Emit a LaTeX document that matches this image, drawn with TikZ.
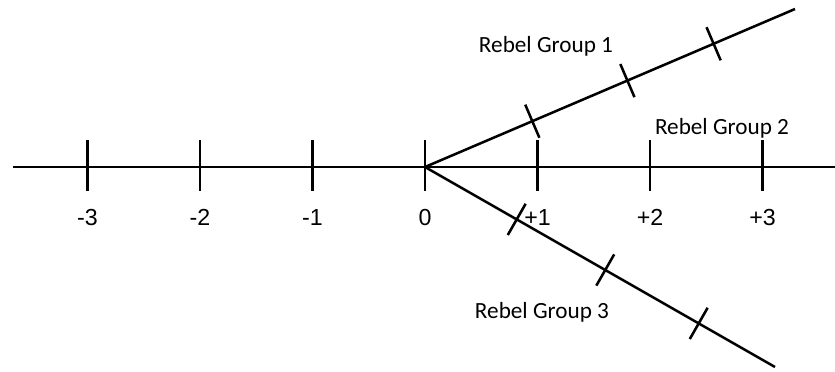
\documentclass[tikz,border=0pt]{standalone}
\usepackage{fontspec}
\setmainfont{Liberation Sans}
\newfontfamily\groupfont{Carlito}
\usetikzlibrary{calc}

\begin{document}
\begin{tikzpicture}[x=0.025cm, y=-0.025cm, line width=1.8pt,
    num/.style={font=\fontsize{16.5}{19}\selectfont, anchor=base},
    group/.style={font=\groupfont\fontsize{16.5}{20}\selectfont}]
    \useasboundingbox (0,0) rectangle (835,371);
    % axis and the two branches
    \coordinate (o) at (425,167);
    \coordinate (left) at (13,167);
    \coordinate (right) at (835,167);
    \coordinate (g1) at (795,9);
    \coordinate (g3) at (775,367);
    \draw (left) -- (right);
    \draw (o) -- (g1);
    \draw (o) -- (g3);
    % ticks and numbers on the axis
    \foreach \i/\lab in {-3/-3,-2/-2,-1/-1,0/0,1/+1,2/+2,3/+3} {
        \draw ($(o)+(112.5*\i,-27)$) -- ($(o)+(112.5*\i,24)$);
        \node[num] (n\i) at ($(o)+(112.5*\i,58)$) {\lab};
    }
    % ticks on the branches
    \foreach \p in {0.29,0.547,0.78}
        \draw ($(o)!\p!(g1)!0.45cm!90:(g1)$) -- ($(o)!\p!(g1)!0.45cm!-90:(g1)$);
    \foreach \p in {0.262,0.515,0.782}
        \draw ($(o)!\p!(g3)!0.45cm!90:(g3)$) -- ($(o)!\p!(g3)!0.45cm!-90:(g3)$);
    % group labels
    \node[group] (r1) at (546,46) {Rebel Group 1};
    \node[group] (r2) at (722,128) {Rebel Group 2};
    \node[group] (r3) at (542,312) {Rebel Group 3};
\end{tikzpicture}
\end{document}
